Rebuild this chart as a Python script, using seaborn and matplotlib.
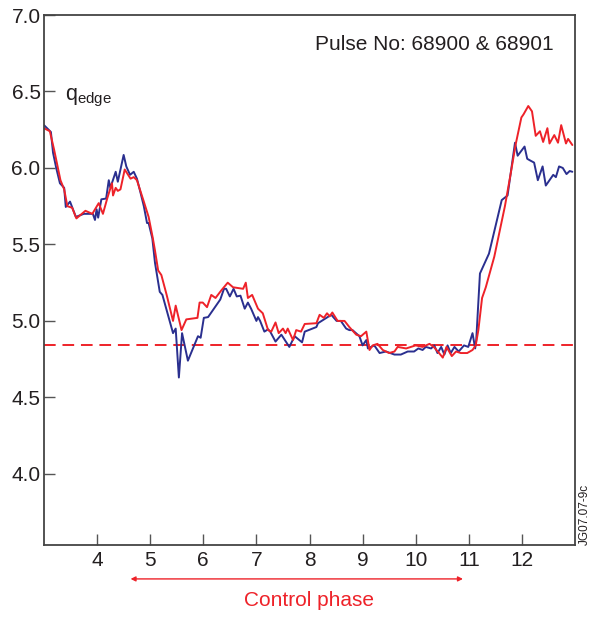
import numpy as np
import pandas as pd
import matplotlib
matplotlib.use("Agg")
import matplotlib.pyplot as plt
import seaborn as sns

# ---- data ----
blue_t = [3.00, 3.13, 3.17, 3.23, 3.30, 3.38, 3.41, 3.49, 3.60, 3.75, 3.92, 3.96, 3.99, 4.02,
          4.08, 4.17, 4.22, 4.25, 4.35, 4.39, 4.50, 4.55, 4.62, 4.69, 4.75, 4.82, 4.88, 4.94,
          4.97, 5.04, 5.09, 5.18, 5.23, 5.43, 5.48, 5.54, 5.60, 5.71, 5.90, 5.95, 6.01, 6.09,
          6.32, 6.39, 6.43, 6.50, 6.57, 6.63, 6.70, 6.78, 6.84, 6.90, 7.00, 7.03, 7.07, 7.15,
          7.22, 7.26, 7.36, 7.47, 7.62, 7.72, 7.86, 7.91, 8.13, 8.16, 8.41, 8.51, 8.59, 8.69,
          8.75, 8.81, 8.94, 9.00, 9.07, 9.10, 9.22, 9.32, 9.44, 9.60, 9.72, 9.85, 9.97, 10.05,
          10.13, 10.19, 10.29, 10.35, 10.41, 10.48, 10.54, 10.60, 10.66, 10.73, 10.81, 10.91,
          10.99, 11.07, 11.12, 11.14, 11.21, 11.38, 11.62, 11.73, 11.87, 11.92, 12.05, 12.10,
          12.15, 12.23, 12.30, 12.39, 12.45, 12.59, 12.64, 12.70, 12.77, 12.84, 12.90, 12.95]
blue_q = [6.28, 6.235, 6.10, 6.00, 5.90, 5.87, 5.745, 5.78, 5.68, 5.70, 5.70, 5.66, 5.73, 5.675,
          5.795, 5.80, 5.92, 5.87, 5.975, 5.91, 6.085, 6.01, 5.955, 5.975, 5.93, 5.835, 5.75, 5.64,
          5.64, 5.54, 5.38, 5.19, 5.17, 4.92, 4.95, 4.63, 4.92, 4.74, 4.90, 4.89, 5.02, 5.025,
          5.14, 5.21, 5.21, 5.16, 5.21, 5.16, 5.165, 5.08, 5.12, 5.08, 5.00, 5.025, 5.00, 4.93,
          4.945, 4.93, 4.865, 4.91, 4.83, 4.90, 4.86, 4.93, 4.96, 4.985, 5.04, 5.00, 5.00, 4.95,
          4.94, 4.94, 4.90, 4.84, 4.875, 4.82, 4.84, 4.79, 4.80, 4.78, 4.78, 4.80, 4.80, 4.82,
          4.81, 4.83, 4.82, 4.84, 4.79, 4.83, 4.78, 4.84, 4.79, 4.83, 4.80, 4.84,
          4.83, 4.92, 4.82, 4.875, 5.31, 5.44, 5.79, 5.82, 6.165, 6.08, 6.14, 6.06,
          6.05, 6.035, 5.92, 6.01, 5.885, 5.955, 5.94, 6.01, 6.00, 5.96, 5.98, 5.975]

red_t = [3.00, 3.11, 3.19, 3.31, 3.38, 3.44, 3.53, 3.61, 3.78, 3.91, 4.03, 4.11, 4.19, 4.28,
         4.30, 4.35, 4.39, 4.44, 4.52, 4.63, 4.69, 4.75, 4.88, 4.97, 5.05, 5.09, 5.15, 5.21,
         5.31, 5.43, 5.48, 5.59, 5.68, 5.89, 5.93, 5.99, 6.07, 6.15, 6.23, 6.34, 6.46, 6.56,
         6.75, 6.80, 6.84, 6.92, 7.03, 7.12, 7.22, 7.28, 7.36, 7.42, 7.50, 7.55, 7.59, 7.69,
         7.75, 7.84, 7.91, 8.13, 8.19, 8.27, 8.33, 8.38, 8.43, 8.53, 8.66, 8.75, 8.88, 8.97,
         9.07, 9.13, 9.19, 9.28, 9.38, 9.50, 9.60, 9.66, 9.82, 10.00, 10.13, 10.26, 10.34,
         10.44, 10.51, 10.58, 10.68, 10.76, 10.85, 10.97, 11.07, 11.13, 11.18, 11.25, 11.32,
         11.48, 11.68, 11.79, 11.88, 11.99, 12.03, 12.12, 12.19, 12.26, 12.34, 12.40, 12.48,
         12.52, 12.61, 12.68, 12.74, 12.83, 12.87, 12.95]
red_q = [6.26, 6.24, 6.12, 5.92, 5.86, 5.75, 5.74, 5.67, 5.72, 5.70, 5.77, 5.70, 5.80, 5.90,
         5.82, 5.87, 5.85, 5.86, 5.99, 5.93, 5.94, 5.92, 5.78, 5.68, 5.54, 5.46, 5.33, 5.30,
         5.17, 5.00, 5.10, 4.94, 5.01, 5.02, 5.12, 5.12, 5.09, 5.17, 5.15, 5.20, 5.25, 5.22,
         5.21, 5.25, 5.15, 5.17, 5.08, 5.05, 4.94, 4.93, 4.99, 4.92, 4.95, 4.92, 4.95, 4.875,
         4.94, 4.93, 4.98, 4.985, 5.04, 5.02, 5.05, 5.03, 5.055, 5.00, 5.00, 4.96, 4.91, 4.90,
         4.93, 4.81, 4.84, 4.85, 4.81, 4.79, 4.80, 4.83, 4.82, 4.84, 4.83, 4.85, 4.83,
         4.79, 4.76, 4.83, 4.77, 4.80, 4.79, 4.79, 4.81, 4.84, 4.94, 5.15, 5.22,
         5.42, 5.75, 5.965, 6.15, 6.33, 6.35, 6.405, 6.37, 6.21, 6.24, 6.17, 6.26,
         6.16, 6.215, 6.165, 6.28, 6.16, 6.19, 6.15]

pulses = ["68900", "68901"]
q_ref = 4.84
control_start, control_end = 4.63, 10.89
control_label_x = 8.0
x_ticks = [4, 5, 6, 7, 8, 9, 10, 11, 12]
y_ticks = [4.0, 4.5, 5.0, 5.5, 6.0, 6.5, 7.0]

df = pd.concat([
    pd.DataFrame({"t": blue_t, "q": blue_q, "pulse": pulses[0]}),
    pd.DataFrame({"t": red_t, "q": red_q, "pulse": pulses[1]}),
])

sns.set_theme(style="ticks")
plt.rcParams["font.family"] = ["Liberation Sans", "DejaVu Sans"]
plt.rcParams["mathtext.fontset"] = "custom"
plt.rcParams["mathtext.rm"] = "Liberation Sans"

BLUE = "#2a2f8f"
RED = "#ee2229"
TXT = "#231f20"
FS = 15

fig = plt.figure(figsize=(5.91, 6.17), dpi=100)
ax = fig.add_axes([44 / 591, 1 - 545 / 617, (575 - 44) / 591, (545 - 15) / 617])

sns.lineplot(data=df, x="t", y="q", hue="pulse", palette={pulses[0]: BLUE, pulses[1]: RED},
             hue_order=[pulses[0], pulses[1]], sort=False, estimator=None,
             linewidth=1.4, legend=False, ax=ax)

ax.axhline(q_ref, color=RED, lw=1.4, ls=(0, (6, 3.5)), zorder=1)

ax.set_xlim(3.0, 13.0)
ax.set_ylim(3.535, 7.0)
ax.set_xticks(x_ticks)
ax.set_yticks(y_ticks)
ax.set_yticklabels([f"{v:.1f}" for v in y_ticks])
ax.set_xlabel("")
ax.set_ylabel("")
ax.tick_params(direction="in", length=8, width=1.0, color="#555555",
               labelsize=FS, labelcolor=TXT)
ax.tick_params(axis="x", pad=4)
ax.tick_params(axis="y", pad=2.5)
for s in ax.spines.values():
    s.set_color("#444444")
    s.set_linewidth(1.3)

ax.text(0.959, 0.945, "Pulse No: 68900 & 68901", transform=ax.transAxes,
        ha="right", va="center", fontsize=FS, color=TXT)
ax.text(3.4, 6.46, r"q$_{\mathregular{edge}}$", ha="left", va="center",
        fontsize=15.5, color=TXT)

# control phase annotation
ax.annotate("", xy=(control_start, -0.064), xytext=(control_end, -0.064),
            xycoords=("data", "axes fraction"), textcoords=("data", "axes fraction"),
            arrowprops=dict(arrowstyle="<|-|>", color=RED, lw=1.0,
                            mutation_scale=7, shrinkA=0, shrinkB=0),
            annotation_clip=False)
ax.text(control_label_x, -0.104, "Control phase",
        transform=ax.get_xaxis_transform(), ha="center", va="center",
        fontsize=FS, color=RED, clip_on=False)

fig.text(585 / 591, 1 - 514 / 617, "JG07.07-9c", rotation=90, ha="center", va="center",
         fontsize=8.5, color=TXT)

fig.savefig("out.png", dpi=100)
